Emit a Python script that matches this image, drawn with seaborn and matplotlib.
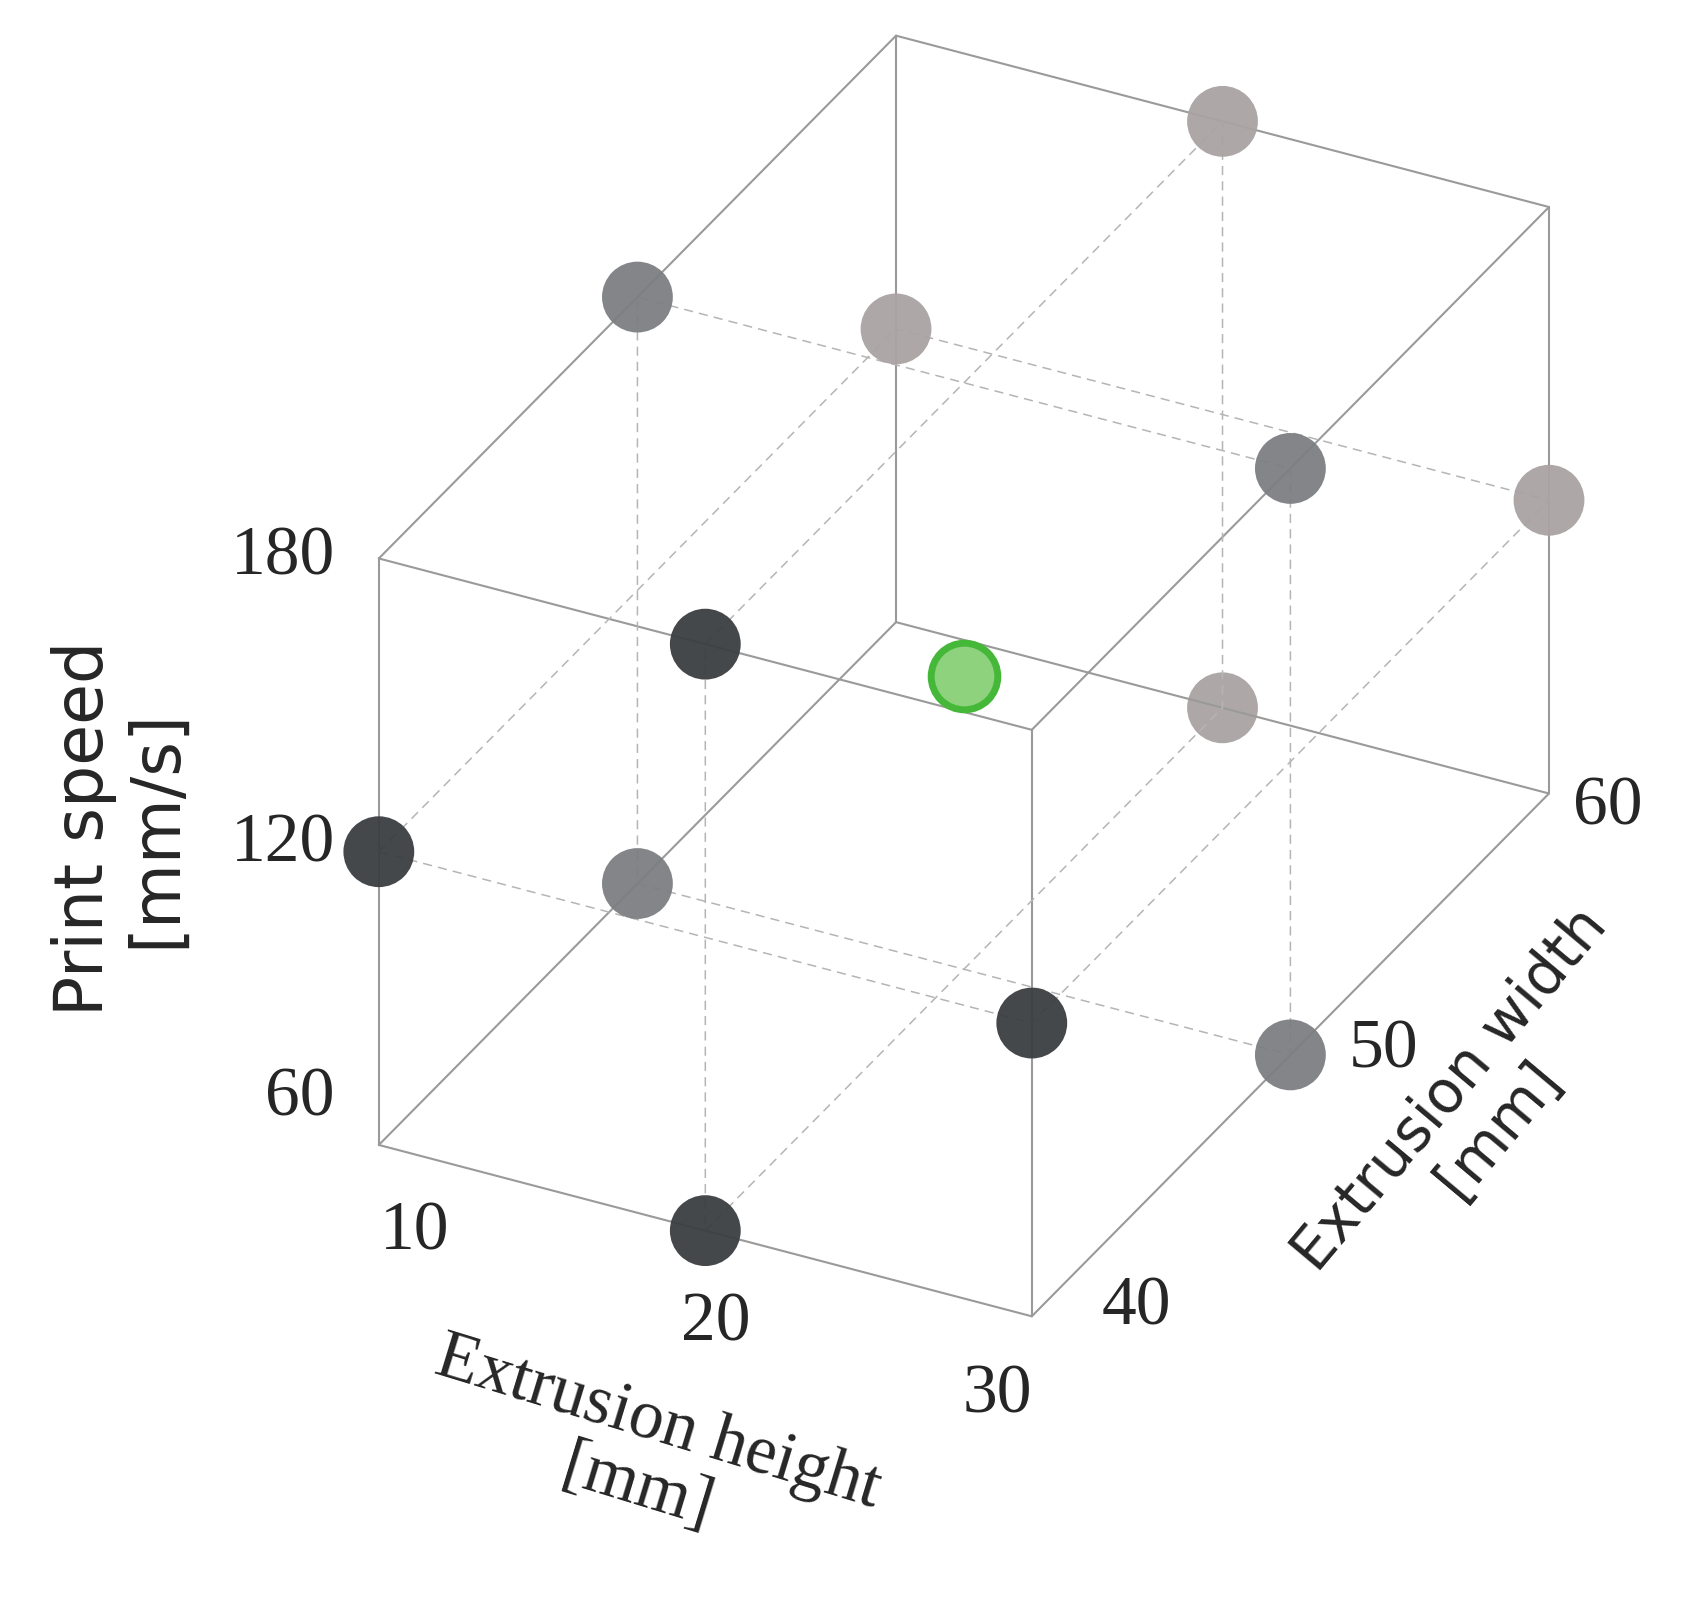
import matplotlib
matplotlib.use("Agg")
import matplotlib.pyplot as plt
import seaborn as sns
import numpy as np
import itertools

sns.set_theme(style="white")

heights = [10, 20, 30]
widths = [40, 50, 60]
speeds = [60, 120, 180]

# Box-Behnken design points (height, width, speed)
pt_h = [20, 10, 30, 20, 10, 30, 10, 30, 20, 20, 10, 30, 20]
pt_w = [40, 40, 40, 40, 50, 50, 50, 50, 60, 60, 60, 60, 50]
pt_s = [60, 120, 120, 180, 180, 180, 60, 60, 180, 60, 120, 120, 120]
width_colors = {40: "#3b3e41", 50: "#7c7f82", 60: "#aaa2a3"}

fig = plt.figure(figsize=(16.91, 15.97), dpi=100)
ax = fig.add_axes([0.097, 0.103, 0.9225, 0.9225], projection="3d")
ax.set_axis_off()
ax.set_proj_type("ortho")
ax.view_init(elev=31, azim=-63)
ax.set_box_aspect((678, 1054, 633))
ax.set_xlim(10, 30); ax.set_ylim(40, 60); ax.set_zlim(60, 180)

lo = [10, 40, 60]; hi = [30, 60, 180]
for a, b in itertools.combinations(itertools.product(*zip(lo, hi)), 2):
    if sum(x != y for x, y in zip(a, b)) == 1:
        ax.plot(*zip(a, b), color="#9a9a9a", lw=1.5)

dash = dict(color="#b5b5b5", lw=1.1, ls=(0, (6, 4)))
ax.plot([10, 30, 30, 10, 10], [40, 40, 60, 60, 40], [120]*5, **dash)
ax.plot([10, 30, 30, 10, 10], [50]*5, [60, 60, 180, 180, 60], **dash)
ax.plot([20]*5, [40, 60, 60, 40, 40], [60, 60, 180, 180, 60], **dash)

for h, w, s in zip(pt_h, pt_w, pt_s):
    if (h, w, s) == (20, 50, 120):
        ax.scatter([h], [w], [s], s=2300, c="#8fd27e", edgecolors="#45b83a",
                   linewidths=5, depthshade=False)
    else:
        ax.scatter([h], [w], [s], s=2600, c=width_colors[w], edgecolors="none",
                   alpha=0.95, depthshade=False)

serif = ["Liberation Serif", "DejaVu Serif"]
for s, y in zip(speeds, [0.312, 0.471, 0.651]):
    fig.text(0.198, y, str(s), fontsize=50, family=serif, ha="right", va="center")
for h, (x, y) in zip(heights, [(0.245, 0.228), (0.423, 0.171), (0.59, 0.126)]):
    fig.text(x, y, str(h), fontsize=50, family=serif, ha="center", va="center")
for w, (x, y) in zip(widths, [(0.672, 0.181), (0.818, 0.342), (0.951, 0.494)]):
    fig.text(x, y, str(w), fontsize=50, family=serif, ha="center", va="center")

fig.text(0.071, 0.481, "Print speed\n[mm/s]", fontsize=48, rotation=90,
         ha="center", va="center", linespacing=1.1)
fig.text(0.383, 0.088, "Extrusion height\n[mm]", fontsize=50, family=serif,
         rotation=-17, ha="center", va="center", linespacing=1.1)
fig.text(0.872, 0.305, "Extrusion width\n[mm]", fontsize=42, rotation=50,
         ha="center", va="center", linespacing=1.1)

fig.savefig("out.png", dpi=100, facecolor="white")
